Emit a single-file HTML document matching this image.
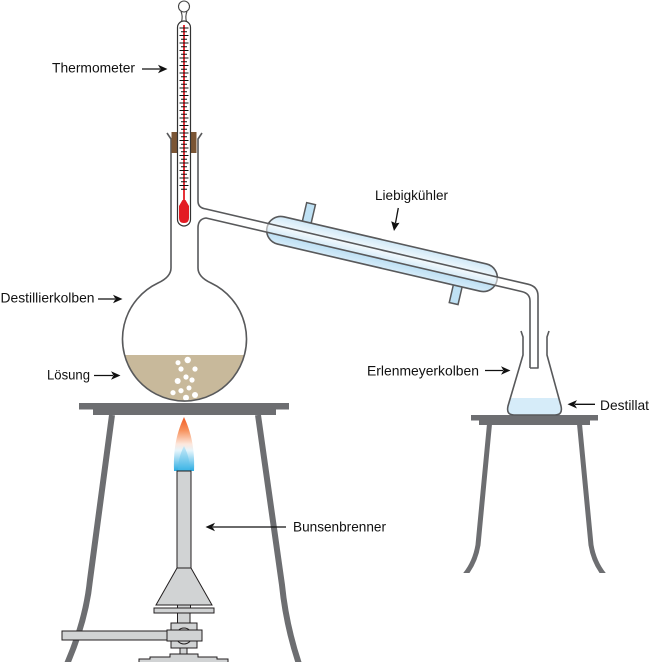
<!DOCTYPE html>
<html>
<head>
<meta charset="utf-8">
<style>
  html, body { margin: 0; padding: 0; background: #ffffff; }
  svg { display: block; }
  text { font-family: "Liberation Sans", Arial, sans-serif; font-size: 14px; fill: #111; }
</style>
</head>
<body>
<svg width="650" height="662" viewBox="0 0 650 662" xmlns="http://www.w3.org/2000/svg">
  <defs>
    <linearGradient id="flame" x1="0" y1="417" x2="0" y2="471" gradientUnits="userSpaceOnUse">
      <stop offset="0" stop-color="#f15a24"/>
      <stop offset="0.25" stop-color="#f7935e"/>
      <stop offset="0.5" stop-color="#fde7dc"/>
      <stop offset="0.62" stop-color="#e6f5fc"/>
      <stop offset="0.8" stop-color="#8fd3f0"/>
      <stop offset="1" stop-color="#29abe2"/>
    </linearGradient>
    <linearGradient id="flameIn" x1="0" y1="446" x2="0" y2="471" gradientUnits="userSpaceOnUse">
      <stop offset="0" stop-color="#bfe6f7"/>
      <stop offset="1" stop-color="#3db5e6"/>
    </linearGradient>
    <linearGradient id="cond" x1="0" y1="240" x2="0" y2="268" gradientUnits="userSpaceOnUse">
      <stop offset="0" stop-color="#cfe8f7"/>
      <stop offset="0.35" stop-color="#eef7fc"/>
      <stop offset="0.6" stop-color="#b6dcf2"/>
      <stop offset="1" stop-color="#d6ecf9"/>
    </linearGradient>
    <clipPath id="bulb"><circle cx="184.5" cy="339" r="61.5"/></clipPath>
    <clipPath id="erl"><path d="M523,337 L523,355 L508,406 Q506,415 514,415 L555,415 Q563,415 561,406 L547,355 L547,337 Z"/></clipPath>
    <clipPath id="rstand"><rect x="0" y="0" width="650" height="573"/></clipPath>
  </defs>

  <!-- Left stand -->
  <g fill="none" stroke="#6d6e71" stroke-width="6">
    <path d="M112,415 L90,580 Q86,620 67,664"/>
    <path d="M258,415 L282,585 Q286,625 299,664"/>
  </g>
  <rect x="79" y="403" width="210" height="6.5" fill="#6d6e71"/>
  <rect x="93" y="409" width="183" height="6" fill="#6d6e71"/>

  <!-- Right stand -->
  <g fill="none" stroke="#6d6e71" stroke-width="5" clip-path="url(#rstand)">
    <path d="M489.5,424 L478,545 Q475,563 464,576"/>
    <path d="M579.5,424 L591,545 Q594,563 605,576"/>
  </g>
  <rect x="471" y="415" width="127" height="5.5" fill="#6d6e71"/>
  <rect x="479" y="420" width="111" height="5" fill="#6d6e71"/>

  <!-- Flame -->
  <path d="M184,417 C178,430 173,446 174,471 L194,471 C195,446 190,430 184,417 Z" fill="url(#flame)"/>
  <path d="M184,446 C180,454 178,462 178,471 L190,471 C190,462 188,454 184,446 Z" fill="url(#flameIn)" opacity="0.85"/>

  <!-- Bunsen burner -->
  <g fill="#d1d3d4" stroke="#231f20" stroke-width="1">
    <rect x="177" y="471" width="14" height="97"/>
    <polygon points="177,568 191,568 212,605 156,605"/>
    <rect x="177.5" y="605" width="13" height="3"/>
    <rect x="154" y="608" width="60" height="5"/>
    <rect x="177.5" y="613" width="12.5" height="10"/>
    <rect x="171" y="623" width="26" height="25"/>
    <circle cx="184" cy="636" r="8"/>
    <rect x="62" y="631" width="105" height="9"/>
    <rect x="167" y="630" width="35" height="11"/>
    <rect x="180" y="648" width="7" height="6"/>
    <path d="M139,663 L139,659 L150,659 L150,657 L170,657 L170,654 L198,654 L198,657 L217,657 L217,659 L228,659 L228,663 Z"/>
  </g>

  <!-- Round flask fill + liquid -->
  <path d="M171,139 L171,268 Q171,277 158,283 A62,62 0 1 0 211,283 Q198,277 198,268 L198,139 Z" fill="#ffffff"/>
  <rect x="120" y="355" width="130" height="50" fill="#c8b99b" clip-path="url(#bulb)"/>
  <g fill="#ffffff">
    <circle cx="187.7" cy="360" r="3.2"/>
    <circle cx="178" cy="362.7" r="2.5"/>
    <circle cx="181" cy="369" r="2.6"/>
    <circle cx="195" cy="369" r="2.6"/>
    <circle cx="186" cy="377" r="2.6"/>
    <circle cx="177.7" cy="381" r="3"/>
    <circle cx="192" cy="380" r="2.6"/>
    <circle cx="189" cy="388" r="2.5"/>
    <circle cx="181" cy="390.7" r="2.6"/>
    <circle cx="173" cy="392.7" r="2.6"/>
    <circle cx="195" cy="395" r="3"/>
    <circle cx="186" cy="397.7" r="3"/>
  </g>

  <!-- Condenser -->
  <g transform="rotate(13.1 382 254)">
    <rect x="297" y="221" width="9" height="21" fill="#bfe1f4" stroke="#58595b" stroke-width="1.5"/>
    <rect x="458.5" y="266" width="9" height="20" fill="#bfe1f4" stroke="#58595b" stroke-width="1.5"/>
    <rect x="264" y="240" width="236" height="28" rx="14" ry="14" fill="url(#cond)" stroke="#58595b" stroke-width="1.6"/>
  </g>

  <!-- Side arm tube fill -->
  <polygon points="206,209 528,284.2 538,296 538,368 530,368 530,301 522,291.6 206,218" fill="#ffffff" opacity="0.55"/>

  <!-- Erlenmeyer flask -->
  <path d="M523,337 L523,355 L508,406 Q506,415 514,415 L555,415 Q563,415 561,406 L547,355 L547,337 Z" fill="#ffffff"/>
  <rect x="500" y="398" width="70" height="20" fill="#d6ecf9" clip-path="url(#erl)"/>

  <!-- Glass outlines -->
  <g fill="none" stroke="#58595b" stroke-width="1.6" stroke-linejoin="round">
    <path d="M167,133 L171,139 L171,268 Q171,277 158,283 A62,62 0 1 0 211,283 Q198,277 198,268 L198,228 Q198,219 206,218 L522,291.6 Q530,293.5 530,301 L530,368"/>
    <path d="M202,133 L198,139 L198,201 Q198,208 206,209 L528,284.2 Q538,286.5 538,296 L538,368 L530,368"/>
    <path d="M521,331 L523,337 L523,355 L508,406 Q506,415 514,415 L555,415 Q563,415 561,406 L547,355 L547,337 L549,331"/>
  </g>

  <!-- Cork -->
  <rect x="171.5" y="132" width="25" height="21" fill="#7b5534"/>

  <!-- Thermometer -->
  <path d="M181.5,22 Q183,16 181,11.5 M186.5,22 Q185,16 187,11.5" fill="none" stroke="#444" stroke-width="1.1"/>
  <circle cx="184" cy="6.5" r="5.5" fill="#ffffff" stroke="#444" stroke-width="1.1"/>
  <rect x="177.5" y="21" width="13" height="205" rx="6.5" ry="6.5" fill="#ffffff" stroke="#333" stroke-width="1.2"/>
  <line x1="184" y1="25" x2="184" y2="206" stroke="#e31b23" stroke-width="1.8"/>
  <path d="M182.5,200 L185.5,200 L189,206 L189,218 Q189,223 184,223 Q179,223 179,218 L179,206 Z" fill="#e31b23"/>
  <path stroke="#111" stroke-width="1" fill="none" d="
M179.5,28h9 M181,31.75h6 M179.5,35.5h9 M181,39.25h6 M179.5,43h9 M181,46.75h6 M179.5,50.5h9 M181,54.25h6
M179.5,58h9 M181,61.75h6 M179.5,65.5h9 M181,69.25h6 M179.5,73h9 M181,76.75h6 M179.5,80.5h9 M181,84.25h6
M179.5,88h9 M181,91.75h6 M179.5,95.5h9 M181,99.25h6 M179.5,103h9 M181,106.75h6 M179.5,110.5h9 M181,114.25h6
M179.5,118h9 M181,121.75h6 M179.5,125.5h9 M181,129.25h6 M179.5,133h9 M181,136.75h6 M179.5,140.5h9 M181,144.25h6
M179.5,148h9 M181,151.75h6 M179.5,155.5h9 M181,159.25h6 M179.5,163h9 M181,166.75h6 M179.5,170.5h9 M181,174.25h6
M179.5,178h9 M181,181.75h6 M179.5,185.5h9 M181,189.25h6"/>

  <!-- Arrows -->
  <g stroke="#111" stroke-width="1.3" fill="none">
    <line x1="142" y1="69" x2="160" y2="69"/>
    <line x1="98" y1="299" x2="115" y2="299"/>
    <line x1="94" y1="375.5" x2="113" y2="375.5"/>
    <line x1="398.3" y1="208" x2="395.5" y2="223"/>
    <line x1="485" y1="370.5" x2="503" y2="370.5"/>
    <line x1="595" y1="404.3" x2="575" y2="404.3"/>
    <line x1="286" y1="527" x2="213" y2="527"/>
  </g>
  <g fill="#111">
    <polygon points="167.5,69 158,64.8 160.5,69 158,73.2"/>
    <polygon points="122.5,299 113,294.8 115.5,299 113,303.2"/>
    <polygon points="120.5,375.5 111,371.3 113.5,375.5 111,379.7"/>
    <polygon points="394,231 391.2,221.2 395.7,223.3 399.5,222.7"/>
    <polygon points="510.5,370.5 501,366.3 503.5,370.5 501,374.7"/>
    <polygon points="567.5,404.3 577,400.1 574.5,404.3 577,408.5"/>
    <polygon points="205.5,527 215,522.8 212.5,527 215,531.2"/>
  </g>

  <!-- Labels -->
  <text x="52" y="72.5" textLength="83" lengthAdjust="spacingAndGlyphs">Thermometer</text>
  <text x="0.5" y="302.7" textLength="94" lengthAdjust="spacingAndGlyphs">Destillierkolben</text>
  <text x="47" y="379.3" textLength="43" lengthAdjust="spacingAndGlyphs">Lösung</text>
  <text x="375" y="200" textLength="73" lengthAdjust="spacingAndGlyphs">Liebigkühler</text>
  <text x="367" y="375.5" textLength="112" lengthAdjust="spacingAndGlyphs">Erlenmeyerkolben</text>
  <text x="600" y="409.8" textLength="49" lengthAdjust="spacingAndGlyphs">Destillat</text>
  <text x="293" y="531.7" textLength="93" lengthAdjust="spacingAndGlyphs">Bunsenbrenner</text>
</svg>
</body>
</html>
